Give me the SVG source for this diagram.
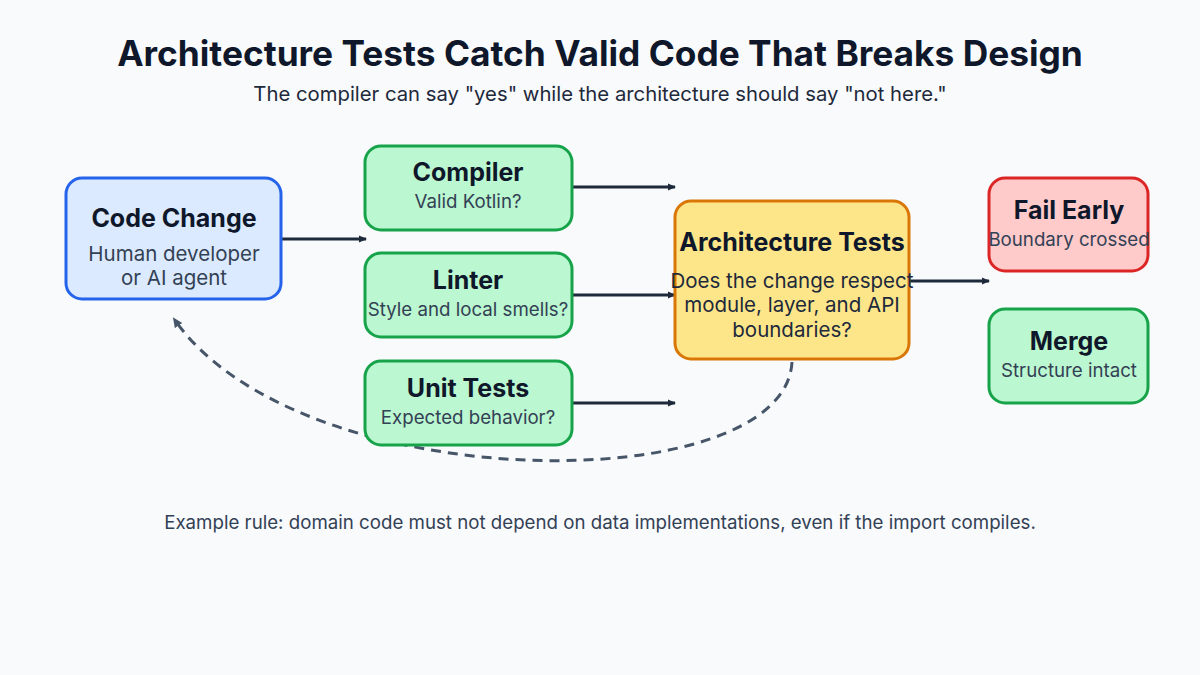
<svg xmlns="http://www.w3.org/2000/svg" width="1200" height="675" viewBox="0 0 1200 675">
<defs>
<style>
.t{font-family:Inter,"Noto Sans","Liberation Sans",sans-serif;text-anchor:middle}
.h{font-weight:700;font-size:25px;fill:#0f172a}
.s{font-size:18.7px;fill:#334155}
.s2{font-size:20.5px;fill:#1e293b}
.e{fill:none;stroke:#1e293b;stroke-width:3}
.box{stroke-width:3}
.g{fill:#bbf7d0;stroke:#16a34a}
</style>
<marker id="ah" markerWidth="8" markerHeight="8" refX="7" refY="4" orient="auto" markerUnits="userSpaceOnUse">
<path d="M0,0.5 L8,4 L0,7.5 Z" fill="#1e293b"/>
</marker>
<marker id="ahd" markerWidth="10" markerHeight="10" refX="8" refY="5" orient="auto" markerUnits="userSpaceOnUse">
<path d="M0,0.5 L10,5 L0,9.5 Z" fill="#475569"/>
</marker>
</defs>
<rect width="1200" height="675" fill="#f8fafc"/>
<text class="t" x="600" y="66" style="font-size:35.3px;font-weight:700;fill:#0f172a">Architecture Tests Catch Valid Code That Breaks Design</text>
<text class="t" x="600" y="101" style="font-size:20.3px;fill:#1e293b">The compiler can say "yes" while the architecture should say "not here."</text>

<g id="connectors">
<path class="e" d="M281,239 H366" marker-end="url(#ah)"/>
<path class="e" d="M572,187 H675" marker-end="url(#ah)"/>
<path class="e" d="M572,295 H675" marker-end="url(#ah)"/>
<path class="e" d="M572,403 H675" marker-end="url(#ah)"/>
<path class="e" d="M909,281 H989" marker-end="url(#ah)"/>
<path d="M792,362 C785,500 300,500 174,319" fill="none" stroke="#475569" stroke-width="3" stroke-dasharray="10 7" marker-end="url(#ahd)"/>
</g>

<g id="code-change">
<rect class="box" x="66" y="178" width="215" height="121" rx="16" fill="#dbeafe" stroke="#2563eb"/>
<text class="t h" x="174" y="227">Code Change</text>
<text class="t s2" x="174" y="261" style="fill:#334155">Human developer</text>
<text class="t s2" x="174" y="285" style="fill:#334155">or AI agent</text>
</g>
<g id="compiler">
<rect class="box g" x="365" y="146" width="207" height="84" rx="16"/>
<text class="t h" x="468" y="181">Compiler</text>
<text class="t s" x="468" y="208">Valid Kotlin?</text>
</g>
<g id="linter">
<rect class="box g" x="365" y="253" width="207" height="84" rx="16"/>
<text class="t h" x="468" y="289">Linter</text>
<text class="t s" x="468" y="316">Style and local smells?</text>
</g>
<g id="unit-tests">
<rect class="box g" x="365" y="361" width="207" height="84" rx="16"/>
<text class="t h" x="468" y="397">Unit Tests</text>
<text class="t s" x="468" y="424">Expected behavior?</text>
</g>
<g id="architecture-tests">
<rect class="box" x="675" y="201" width="234" height="158" rx="16" fill="#fde68a" stroke="#d97706"/>
<text class="t h" x="792" y="251">Architecture Tests</text>
<text class="t s2" x="792" y="288">Does the change respect</text>
<text class="t s2" x="792" y="312">module, layer, and API</text>
<text class="t s2" x="792" y="337">boundaries?</text>
</g>
<g id="fail-early">
<rect class="box" x="989" y="178" width="159" height="93" rx="16" fill="#fecaca" stroke="#dc2626"/>
<text class="t h" x="1069" y="219">Fail Early</text>
<text class="t s" x="1069" y="246">Boundary crossed</text>
</g>
<g id="merge">
<rect class="box g" x="989" y="309" width="159" height="94" rx="16"/>
<text class="t h" x="1069" y="350">Merge</text>
<text class="t s" x="1069" y="377">Structure intact</text>
</g>
<text class="t" x="600" y="529" style="font-size:18.7px;fill:#334155">Example rule: domain code must not depend on data implementations, even if the import compiles.</text>
</svg>
